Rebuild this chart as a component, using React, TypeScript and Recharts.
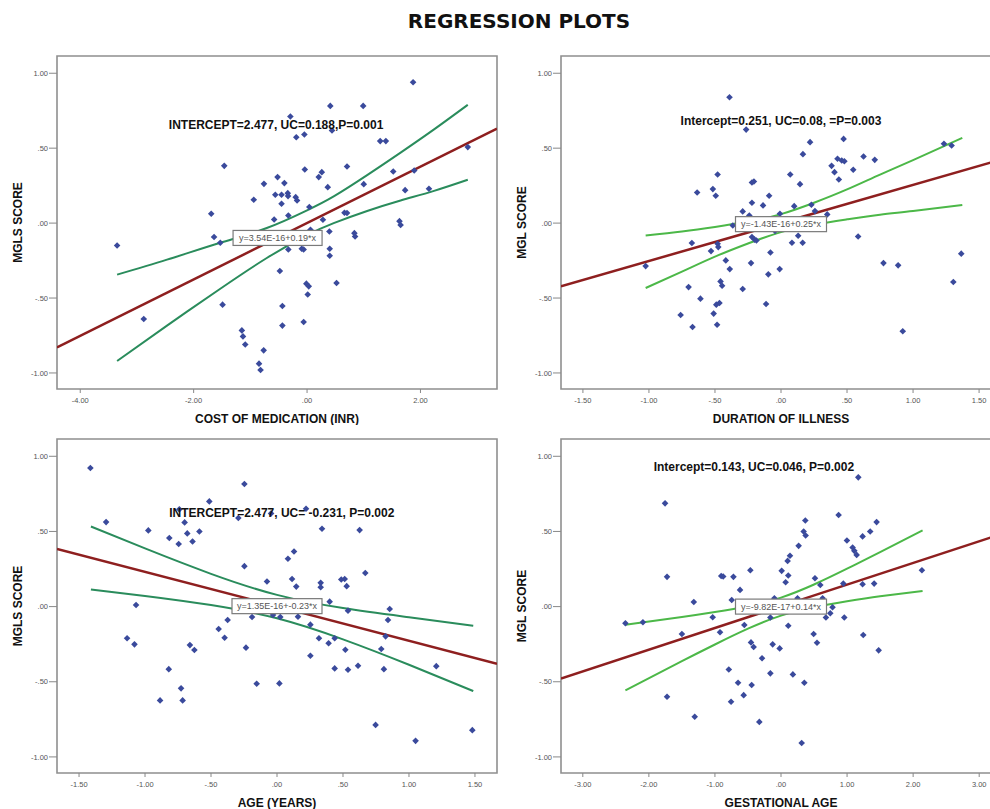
import React from "react";
import {
  ScatterChart,
  Scatter,
  XAxis,
  YAxis,
  ReferenceArea,
  ReferenceDot,
} from "recharts";

type Pt = [number, number];

// scatter points (x, y)
const costPoints: Pt[] = [
  [-3.35, -0.149], [-2.88, -0.64], [-1.69, 0.062], [-1.64, -0.093], [-1.53, -0.131],
  [-1.46, 0.382], [-1.49, -0.544], [-1.15, -0.716], [-1.13, -0.756], [-1.09, -0.81],
  [-0.94, 0.156], [-0.76, 0.262], [-0.765, -0.849], [-0.847, -0.938], [-0.82, -0.98],
  [-0.58, 0.024], [-0.56, 0.189], [-0.52, 0.307], [-0.48, -0.32], [-0.45, 0.189],
  [-0.45, 0.129], [-0.435, -0.553], [-0.435, -0.684], [-0.4, 0.267], [-0.34, 0.2],
  [-0.335, 0.18], [-0.33, 0.051], [-0.33, -0.176], [-0.294, 0.711], [-0.2, 0.173],
  [-0.19, 0.573], [-0.176, 0.151], [-0.094, -0.171], [-0.06, -0.176], [-0.06, -0.66],
  [-0.047, 0.591], [-0.04, 0.358], [-0.012, -0.404], [0.03, -0.422], [0.012, -0.476],
  [0.04, 0.107], [0.06, -0.044], [0.206, 0.307], [0.26, 0.34], [0.28, 0.022],
  [0.365, 0.24], [0.394, -0.056], [0.4, -0.171], [0.4, -0.218], [0.41, 0.782],
  [0.44, 0.618], [0.52, -0.4], [0.66, 0.069], [0.705, 0.067], [0.705, 0.378],
  [0.835, -0.067], [0.847, -0.089], [0.99, 0.782], [1.0, 0.26], [1.29, 0.547],
  [1.39, 0.547], [1.52, 0.344], [1.63, 0.013], [1.65, -0.013], [1.73, 0.22],
  [1.87, 0.94], [1.89, 0.351], [2.15, 0.229], [2.835, 0.507],
];

const durationPoints: Pt[] = [
  [-1.025, -0.287], [-0.76, -0.613], [-0.7, -0.427], [-0.675, -0.133], [-0.67, -0.693],
  [-0.635, 0.204], [-0.61, -0.504], [-0.53, -0.187], [-0.516, 0.227], [-0.51, -0.604],
  [-0.494, 0.182], [-0.49, -0.544], [-0.484, -0.678], [-0.48, 0.324], [-0.48, -0.138],
  [-0.475, -0.16], [-0.466, -0.533], [-0.458, -0.389], [-0.446, -0.418], [-0.418, -0.249],
  [-0.39, 0.84], [-0.388, -0.307], [-0.365, -0.016], [-0.29, 0.078], [-0.29, -0.44],
  [-0.264, 0.624], [-0.24, 0.05], [-0.227, -0.267], [-0.22, 0.271], [-0.205, 0.278],
  [-0.22, 0.136], [-0.22, -0.093], [-0.2, -0.11], [-0.186, -0.116], [-0.136, 0.118],
  [-0.096, -0.342], [-0.09, 0.182], [-0.08, -0.196], [-0.113, -0.54], [-0.045, -0.053],
  [-0.01, -0.307], [-0.008, 0.062], [0.07, 0.324], [0.083, -0.131], [0.1, 0.113],
  [0.13, -0.084], [0.144, 0.26], [0.164, -0.131], [0.166, 0.46], [0.22, 0.54],
  [0.23, 0.122], [0.257, 0.08], [0.35, 0.058], [0.383, 0.382], [0.405, 0.34],
  [0.428, 0.429], [0.438, 0.291], [0.46, 0.418], [0.48, 0.413], [0.474, 0.562],
  [0.547, 0.356], [0.584, -0.089], [0.625, 0.444], [0.71, 0.422], [0.776, -0.267],
  [0.887, -0.282], [0.922, -0.722], [1.234, 0.529], [1.292, 0.518], [1.305, -0.393],
  [1.365, -0.204],
];

const agePoints: Pt[] = [
  [-1.414, 0.922], [-1.295, 0.562], [-1.136, -0.211], [-1.08, -0.251], [-1.068, 0.011],
  [-0.975, 0.507], [-0.886, -0.624], [-0.82, -0.416], [-0.816, 0.456], [-0.745, 0.416],
  [-0.74, 0.647], [-0.727, -0.544], [-0.715, -0.624], [-0.7, 0.56], [-0.68, 0.487],
  [-0.66, -0.256], [-0.64, 0.433], [-0.626, -0.289], [-0.588, 0.5], [-0.513, 0.7],
  [-0.442, -0.149], [-0.397, -0.207], [-0.374, -0.089], [-0.293, 0.589], [-0.247, 0.816],
  [-0.247, 0.269], [-0.235, -0.273], [-0.189, -0.069], [-0.154, -0.513], [-0.076, 0.167],
  [-0.03, -0.056], [0.018, -0.511], [0.025, -0.069], [-0.045, 0.62], [0.22, 0.651],
  [0.341, 0.518], [0.626, 0.509], [0.083, 0.318], [0.129, 0.367], [0.114, 0.184],
  [0.146, 0.133], [0.331, 0.158], [0.331, 0.129], [0.487, 0.18], [0.513, 0.184],
  [0.528, 0.136], [0.669, 0.224], [0.399, 0.033], [0.538, -0.027], [0.854, -0.016],
  [0.841, -0.089], [0.159, -0.067], [0.253, -0.12], [0.318, -0.211], [0.391, -0.244],
  [0.437, -0.211], [0.518, -0.287], [0.79, -0.282], [0.823, -0.198], [0.253, -0.327],
  [0.437, -0.411], [0.538, -0.42], [0.614, -0.393], [0.81, -0.416], [1.207, -0.396],
  [0.747, -0.787], [1.05, -0.893], [1.48, -0.822],
];

const gestPoints: Pt[] = [
  [-2.355, -0.111], [-2.09, -0.104], [-1.755, 0.687], [-1.725, 0.198], [-1.725, -0.6],
  [-1.5, -0.182], [-1.32, 0.031], [-1.306, -0.733], [-1.034, -0.071], [-0.923, -0.171],
  [-0.905, 0.204], [-0.875, 0.2], [-0.79, -0.418], [-0.756, -0.633], [-0.746, 0.044],
  [-0.72, 0.198], [-0.65, -0.507], [-0.62, 0.111], [-0.565, -0.589], [-0.555, -0.122],
  [-0.464, 0.242], [-0.454, -0.238], [-0.414, -0.269], [-0.444, -0.522], [-0.328, -0.767],
  [-0.287, -0.344], [-0.161, -0.444], [-0.161, -0.073], [-0.126, -0.251], [-0.1, 0.056],
  [-0.02, -0.278], [0.01, 0.238], [0.07, 0.162], [0.1, 0.304], [0.136, 0.338],
  [0.11, 0.207], [0.11, -0.127], [0.18, -0.451], [0.267, 0.404], [0.25, 0.056],
  [0.313, -0.907], [0.343, 0.5], [0.373, 0.473], [0.368, 0.573], [0.353, -0.507],
  [0.494, -0.182], [0.514, 0.189], [0.545, -0.24], [0.595, 0.144], [0.63, 0.056],
  [0.68, -0.073], [0.746, -0.044], [0.78, -0.004], [0.872, 0.609], [0.943, 0.153],
  [0.958, -0.073], [0.998, 0.44], [1.084, 0.393], [1.11, 0.371], [1.145, 0.344],
  [1.17, 0.86], [1.235, 0.467], [1.235, 0.149], [1.245, -0.189], [1.35, 0.5],
  [1.41, 0.153], [1.447, 0.562], [1.478, -0.291], [2.133, 0.242],
];

// fitted lines (ends at the frame edges) and confidence bands
const costFit: Pt[] = [[-4.41, -0.829], [3.35, 0.63]];
const costBandX = [-3.35, -2.47, -1.53, -0.71, 0, 0.47, 1.06, 1.65, 2.24, 2.835];
const costUpper = [-0.344, -0.244, -0.131, -0.033, 0.085, 0.178, 0.32, 0.47, 0.625, 0.789];
const costLower = [-0.92, -0.684, -0.438, -0.233, -0.08, 0.0, 0.081, 0.151, 0.215, 0.289];

const durationFit: Pt[] = [[-1.666, -0.422], [1.666, 0.424]];
const durationBandX = [-1.025, -0.75, -0.5, -0.25, 0, 0.25, 0.5, 0.75, 1.0, 1.373];
const durationUpper = [-0.082, -0.056, -0.026, 0.01, 0.06, 0.136, 0.225, 0.324, 0.42, 0.569];
const durationLower = [-0.433, -0.324, -0.224, -0.136, -0.06, -0.01, 0.025, 0.056, 0.08, 0.12];

const ageFit: Pt[] = [[-1.667, 0.384], [1.667, -0.38]];
const ageBandX = [-1.41, -1.0, -0.5, 0, 0.5, 1.0, 1.487];
const ageUpper = [0.533, 0.387, 0.218, 0.078, -0.01, -0.071, -0.128];
const ageLower = [0.113, 0.071, 0.01, -0.078, -0.218, -0.387, -0.562];

const gestFit: Pt[] = [[-3.33, -0.478], [3.33, 0.482]];
const gestBandX = [-2.355, -1.5, -1.0, -0.5, 0, 0.5, 1.0, 1.5, 2.143];
const gestUpper = [-0.12, -0.069, -0.036, 0.003, 0.06, 0.147, 0.252, 0.363, 0.507];
const gestLower = [-0.558, -0.363, -0.252, -0.147, -0.06, -0.003, 0.036, 0.069, 0.104];

const yTicks = [-1, -0.5, 0, 0.5, 1];
const costTicks = [-4, -2, 0, 2];
const halfTicks = [-1.5, -1, -0.5, 0, 0.5, 1, 1.5];
const gestTicks = [-3, -2, -1, 0, 1, 2, 3];
const yDomain: [number, number] = [-1.107, 1.115];

const FONT = "'Liberation Sans', Arial, sans-serif";

// SPSS style tick text: .50, -1.00
function fmt(v: number) {
  const s = Math.abs(v).toFixed(2).replace(/^0/, "");
  return v < 0 ? "-" + s : s;
}

const toObj = (pts: Pt[]) => pts.map(([x, y]) => ({ x, y }));
const band = (xs: number[], ys: number[]) => xs.map((x, i) => ({ x, y: ys[i] }));

const Diamond = (props: any) => {
  const { cx, cy } = props;
  if (cx == null || cy == null) return <g />;
  const r = 3.3;
  return (
    <polygon
      points={`${cx},${cy - r} ${cx + r},${cy} ${cx},${cy + r} ${cx - r},${cy}`}
      fill="#3a4a9c"
    />
  );
};

const NoShape = () => <g />;

interface PanelProps {
  left: number;
  top: number;
  width: number;
  height: number;
  marginTop: number;
  yAxisWidth: number;
  yLabelOffset: number;
  xDomain: [number, number];
  xTicks: number[];
  points: Pt[];
  fit: Pt[];
  bandX: number[];
  upper: number[];
  lower: number[];
  green: string;
  xTitle: string;
  yTitle: string;
  note: string;
  noteAt: Pt;
  eq: string;
  eqAt: Pt;
  eqWidth: number;
}

function Panel(p: PanelProps) {
  const noteShape = (s: any) => (
    <text
      x={s.cx}
      y={s.cy}
      dy="0.35em"
      textAnchor="middle"
      fontSize={12}
      fontWeight="bold"
      fontFamily={FONT}
      fill="#111"
    >
      {p.note}
    </text>
  );
  const eqShape = (s: any) => (
    <g>
      <rect
        x={s.cx - p.eqWidth / 2}
        y={s.cy - 7.5}
        width={p.eqWidth}
        height={15}
        fill="#fff"
        stroke="#7a7a7a"
        strokeWidth={1.2}
      />
      <text
        x={s.cx}
        y={s.cy}
        dy="0.35em"
        textAnchor="middle"
        fontSize={9}
        fontFamily={FONT}
        fill="#555"
      >
        {p.eq}
      </text>
    </g>
  );
  const tickStyle = { fontSize: 7.5, fill: "#555", fontFamily: FONT };
  const titleStyle = { fontSize: 12, fontWeight: "bold", fill: "#111", fontFamily: FONT };

  return (
    <div style={{ position: "absolute", left: p.left, top: p.top }}>
      <ScatterChart
        width={p.width}
        height={p.height}
        margin={{ top: p.marginTop, right: p.width > 500 ? 0 : 3, bottom: 0, left: 0 }}
      >
        <XAxis
          type="number"
          dataKey="x"
          domain={p.xDomain}
          ticks={p.xTicks}
          tickFormatter={fmt}
          allowDataOverflow
          interval={0}
          axisLine={false}
          tickLine={{ stroke: "#888" }}
          tickSize={4}
          tickMargin={5}
          height={36}
          tick={tickStyle}
          label={{ value: p.xTitle, position: "insideBottom", offset: 2, style: titleStyle }}
        />
        <YAxis
          type="number"
          dataKey="y"
          domain={yDomain}
          ticks={yTicks}
          tickFormatter={fmt}
          allowDataOverflow
          interval={0}
          axisLine={false}
          tickLine={{ stroke: "#888" }}
          tickSize={8}
          tickMargin={1}
          width={p.yAxisWidth}
          tick={tickStyle}
          label={{
            value: p.yTitle,
            angle: -90,
            position: "insideLeft",
            offset: p.yLabelOffset,
            style: { ...titleStyle, textAnchor: "middle" },
          }}
        />
        <ReferenceArea
          x1={p.xDomain[0]}
          x2={p.xDomain[1]}
          y1={yDomain[0]}
          y2={yDomain[1]}
          fill="none"
          stroke="#8f8f8f"
          strokeWidth={1.6}
          ifOverflow="visible"
        />
        <Scatter
          data={band(p.bandX, p.upper)}
          shape={NoShape}
          line={{ stroke: p.green, strokeWidth: 2 }}
          lineJointType="natural"
          isAnimationActive={false}
        />
        <Scatter
          data={band(p.bandX, p.lower)}
          shape={NoShape}
          line={{ stroke: p.green, strokeWidth: 2 }}
          lineJointType="natural"
          isAnimationActive={false}
        />
        <Scatter
          data={toObj(p.fit)}
          shape={NoShape}
          line={{ stroke: "#8e1f1f", strokeWidth: 2.5 }}
          isAnimationActive={false}
        />
        <Scatter data={toObj(p.points)} shape={Diamond} isAnimationActive={false} />
        <ReferenceDot x={p.noteAt[0]} y={p.noteAt[1]} r={0} shape={noteShape} />
        <ReferenceDot x={p.eqAt[0]} y={p.eqAt[1]} r={0} shape={eqShape} />
      </ScatterChart>
    </div>
  );
}

export default function App() {
  return (
    <div
      style={{
        position: "fixed",
        left: 0,
        top: 0,
        width: 990,
        height: 809,
        overflow: "hidden",
        background: "#fff",
      }}
    >
      <div
        style={{
          position: "absolute",
          left: 519,
          top: 9,
          transform: "translateX(-50%)",
          whiteSpace: "nowrap",
          fontFamily: "'DejaVu Sans', sans-serif",
          fontWeight: "bold",
          fontSize: 20,
          color: "#111",
        }}
      >
        REGRESSION PLOTS
      </div>

      <Panel
        left={0}
        top={0}
        width={500}
        height={425}
        marginTop={56}
        yAxisWidth={57}
        yLabelOffset={18}
        xDomain={[-4.41, 3.35]}
        xTicks={costTicks}
        points={costPoints}
        fit={costFit}
        bandX={costBandX}
        upper={costUpper}
        lower={costLower}
        green="#2a8c5c"
        xTitle="COST OF MEDICATION (INR)"
        yTitle="MGLS SCORE"
        note="INTERCEPT=2.477, UC=0.188,P=0.001"
        noteAt={[-0.546, 0.653]}
        eq="y=3.54E-16+0.19*x"
        eqAt={[-0.52, -0.099]}
        eqWidth={89}
      />
      <Panel
        left={495}
        top={0}
        width={506}
        height={425}
        marginTop={56}
        yAxisWidth={66}
        yLabelOffset={27}
        xDomain={[-1.666, 1.666]}
        xTicks={halfTicks}
        points={durationPoints}
        fit={durationFit}
        bandX={durationBandX}
        upper={durationUpper}
        lower={durationLower}
        green="#4cb848"
        xTitle="DURATION OF ILLNESS"
        yTitle="MGL SCORE"
        note="Intercept=0.251, UC=0.08, =P=0.003"
        noteAt={[0, 0.68]}
        eq="y=-1.43E-16+0.25*x"
        eqAt={[0, -0.007]}
        eqWidth={91}
      />
      <Panel
        left={0}
        top={425}
        width={500}
        height={384}
        marginTop={14}
        yAxisWidth={57}
        yLabelOffset={18}
        xDomain={[-1.667, 1.667]}
        xTicks={halfTicks}
        points={agePoints}
        fit={ageFit}
        bandX={ageBandX}
        upper={ageUpper}
        lower={ageLower}
        green="#2a8c5c"
        xTitle="AGE (YEARS)"
        yTitle="MGLS SCORE"
        note="INTERCEPT=2.477, UC= -0.231, P=0.002"
        noteAt={[0.036, 0.627]}
        eq="y=1.35E-16+-0.23*x"
        eqAt={[0, 0.003]}
        eqWidth={90}
      />
      <Panel
        left={495}
        top={425}
        width={506}
        height={384}
        marginTop={14}
        yAxisWidth={66}
        yLabelOffset={27}
        xDomain={[-3.33, 3.33]}
        xTicks={gestTicks}
        points={gestPoints}
        fit={gestFit}
        bandX={gestBandX}
        upper={gestUpper}
        lower={gestLower}
        green="#4cb848"
        xTitle="GESTATIONAL  AGE"
        yTitle="MGL SCORE"
        note="Intercept=0.143, UC=0.046, P=0.002"
        noteAt={[-0.41, 0.933]}
        eq="y=-9.82E-17+0.14*x"
        eqAt={[0, 0]}
        eqWidth={91}
      />
    </div>
  );
}
